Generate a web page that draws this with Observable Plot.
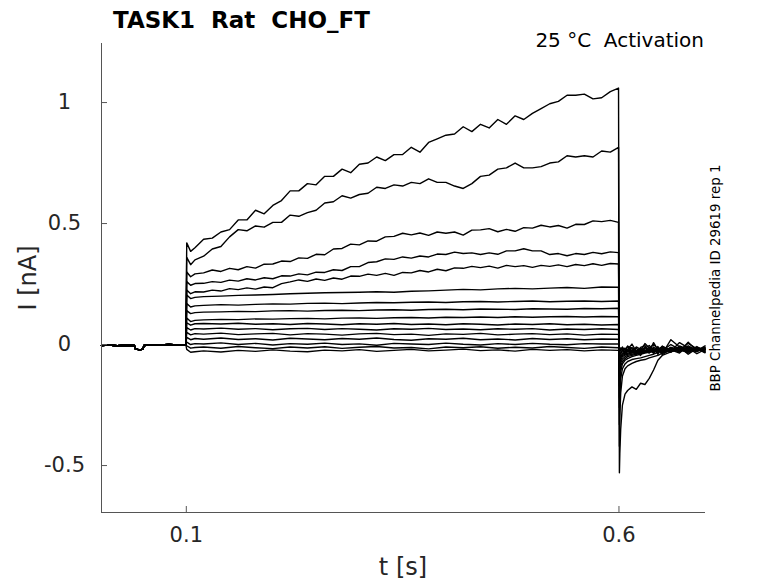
<!DOCTYPE html>
<html><head><meta charset="utf-8">
<script src="https://cdn.jsdelivr.net/npm/d3@7"></script>
<script src="https://cdn.jsdelivr.net/npm/@observablehq/plot@0.6"></script>
<style>
html,body{margin:0;padding:0;background:#fff;}
#wrap{position:relative;width:778px;height:583px;font-family:"DejaVu Sans",sans-serif;color:#000;overflow:hidden;}
.lab{position:absolute;white-space:pre;line-height:1;}
</style></head><body>
<div id="wrap"></div>
<script>
// ---- axes / tick labels ----
const X_DOMAIN = [0.002, 0.7];
const Y_DOMAIN = [-0.694, 1.244];
const X_TICKS = [0.1, 0.6];
const Y_TICKS = [-0.5, 0, 0.5, 1];

// ---- holding period (shared by all sweeps) ----
const PRE_T = [0.002, 0.01, 0.02, 0.03, 0.04, 0.041, 0.046, 0.05, 0.051, 0.06, 0.07, 0.08, 0.09, 0.0995];
const PRE_I = [-0.004, -0.002, -0.005, -0.003, -0.004, -0.018, -0.022, -0.019, -0.004, -0.001, -0.002, 0.0, -0.002, -0.001];

// ---- test pulse (0.1 - 0.6 s): fine time grid for the five largest sweeps ----
const STEP_T_FINE = [0.1005, 0.105, 0.11, 0.12, 0.13, 0.14, 0.15, 0.16, 0.17, 0.18, 0.19, 0.20, 0.21, 0.22, 0.23, 0.24, 0.25, 0.26, 0.27, 0.28, 0.29, 0.30, 0.31, 0.32, 0.33, 0.34, 0.35, 0.36, 0.37, 0.38, 0.39, 0.40, 0.41, 0.42, 0.43, 0.44, 0.45, 0.46, 0.47, 0.48, 0.49, 0.50, 0.51, 0.52, 0.53, 0.54, 0.55, 0.56, 0.57, 0.58, 0.59, 0.5995];
const S1 = [0.42, 0.385, 0.40, 0.435, 0.44, 0.465, 0.475, 0.515, 0.515, 0.555, 0.54, 0.575, 0.595, 0.635, 0.635, 0.665, 0.66, 0.695, 0.695, 0.725, 0.71, 0.745, 0.75, 0.775, 0.76, 0.785, 0.785, 0.815, 0.795, 0.835, 0.85, 0.865, 0.87, 0.9, 0.88, 0.91, 0.895, 0.93, 0.91, 0.945, 0.93, 0.955, 0.975, 0.995, 1.005, 1.03, 1.03, 1.035, 1.015, 1.02, 1.045, 1.06];
const S2 = [0.36, 0.33, 0.35, 0.365, 0.395, 0.405, 0.445, 0.475, 0.47, 0.49, 0.485, 0.505, 0.505, 0.535, 0.53, 0.545, 0.555, 0.585, 0.59, 0.615, 0.605, 0.62, 0.625, 0.65, 0.645, 0.66, 0.655, 0.67, 0.665, 0.685, 0.67, 0.67, 0.655, 0.645, 0.665, 0.695, 0.7, 0.725, 0.73, 0.75, 0.73, 0.73, 0.735, 0.75, 0.755, 0.78, 0.775, 0.78, 0.775, 0.8, 0.795, 0.815];
const S3 = [0.30, 0.28, 0.292, 0.296, 0.308, 0.302, 0.315, 0.309, 0.322, 0.316, 0.332, 0.333, 0.345, 0.343, 0.358, 0.356, 0.373, 0.371, 0.395, 0.397, 0.415, 0.412, 0.428, 0.427, 0.445, 0.447, 0.46, 0.453, 0.461, 0.451, 0.465, 0.46, 0.465, 0.452, 0.473, 0.474, 0.479, 0.466, 0.476, 0.468, 0.483, 0.481, 0.493, 0.486, 0.492, 0.481, 0.497, 0.496, 0.511, 0.508, 0.513, 0.505];
const S4 = [0.26, 0.245, 0.252, 0.253, 0.26, 0.257, 0.266, 0.262, 0.272, 0.267, 0.276, 0.272, 0.284, 0.283, 0.292, 0.288, 0.299, 0.298, 0.309, 0.306, 0.322, 0.322, 0.339, 0.342, 0.354, 0.352, 0.362, 0.357, 0.366, 0.362, 0.374, 0.372, 0.382, 0.376, 0.379, 0.372, 0.379, 0.373, 0.387, 0.387, 0.396, 0.387, 0.387, 0.372, 0.376, 0.367, 0.376, 0.372, 0.381, 0.375, 0.383, 0.38];
const S5 = [0.225, 0.21, 0.218, 0.217, 0.225, 0.221, 0.231, 0.227, 0.234, 0.229, 0.238, 0.235, 0.252, 0.259, 0.267, 0.261, 0.271, 0.265, 0.275, 0.27, 0.283, 0.282, 0.291, 0.286, 0.294, 0.286, 0.298, 0.296, 0.306, 0.3, 0.311, 0.305, 0.317, 0.315, 0.323, 0.318, 0.324, 0.316, 0.327, 0.322, 0.326, 0.319, 0.327, 0.323, 0.329, 0.322, 0.331, 0.326, 0.334, 0.327, 0.335, 0.333];

// ---- test pulse: coarse time grid for the small sweeps ----
const STEP_T = [0.1005, 0.105, 0.11, 0.12, 0.14, 0.16, 0.18, 0.20, 0.22, 0.24, 0.26, 0.28, 0.30, 0.32, 0.34, 0.36, 0.38, 0.40, 0.42, 0.44, 0.46, 0.48, 0.50, 0.52, 0.54, 0.56, 0.58, 0.5995];
const S6 = [0.205, 0.19, 0.195, 0.198, 0.20, 0.203, 0.205, 0.207, 0.21, 0.212, 0.214, 0.215, 0.216, 0.218, 0.216, 0.22, 0.222, 0.225, 0.228, 0.226, 0.23, 0.232, 0.23, 0.233, 0.236, 0.232, 0.238, 0.237];
const S7 = [0.17, 0.155, 0.16, 0.162, 0.165, 0.163, 0.166, 0.168, 0.167, 0.17, 0.171, 0.169, 0.172, 0.174, 0.173, 0.175, 0.176, 0.174, 0.177, 0.178, 0.176, 0.178, 0.18, 0.177, 0.179, 0.18, 0.178, 0.18];
const S8 = [0.14, 0.128, 0.132, 0.134, 0.135, 0.137, 0.136, 0.139, 0.14, 0.138, 0.141, 0.142, 0.14, 0.143, 0.144, 0.142, 0.145, 0.146, 0.144, 0.147, 0.146, 0.145, 0.148, 0.147, 0.146, 0.149, 0.148, 0.15];
const S9 = [0.11, 0.095, 0.10, 0.102, 0.104, 0.103, 0.106, 0.105, 0.107, 0.108, 0.106, 0.109, 0.11, 0.108, 0.111, 0.112, 0.11, 0.113, 0.112, 0.114, 0.112, 0.115, 0.113, 0.115, 0.116, 0.114, 0.116, 0.115];
const S10 = [0.09, 0.08, 0.086, 0.087, 0.085, 0.088, 0.084, 0.086, 0.083, 0.087, 0.085, 0.082, 0.086, 0.084, 0.087, 0.083, 0.085, 0.082, 0.086, 0.084, 0.081, 0.085, 0.083, 0.086, 0.082, 0.084, 0.081, 0.083];
const S11 = [0.07, 0.06, 0.066, 0.064, 0.068, 0.063, 0.066, 0.061, 0.065, 0.067, 0.062, 0.066, 0.063, 0.06, 0.065, 0.063, 0.067, 0.062, 0.064, 0.061, 0.065, 0.063, 0.066, 0.06, 0.064, 0.062, 0.065, 0.062];
const S12 = [0.05, 0.04, 0.045, 0.043, 0.047, 0.041, 0.044, 0.046, 0.04, 0.045, 0.043, 0.039, 0.044, 0.046, 0.041, 0.043, 0.038, 0.044, 0.042, 0.046, 0.04, 0.043, 0.045, 0.041, 0.044, 0.039, 0.043, 0.042];
const S13 = [0.03, 0.02, 0.025, 0.022, 0.027, 0.021, 0.024, 0.019, 0.026, 0.023, 0.02, 0.025, 0.022, 0.027, 0.021, 0.018, 0.024, 0.022, 0.026, 0.02, 0.023, 0.019, 0.025, 0.021, 0.024, 0.02, 0.023, 0.022];
const S14 = [0.01, 0.0, 0.004, 0.002, 0.007, 0.0, 0.005, -0.002, 0.004, 0.001, 0.006, 0.0, 0.003, -0.003, 0.005, 0.002, 0.0, 0.006, 0.001, -0.002, 0.004, 0.0, 0.005, 0.001, -0.001, 0.004, 0.002, 0.003];
const S15 = [-0.005, -0.015, -0.012, -0.01, -0.015, -0.008, -0.013, -0.017, -0.01, -0.014, -0.009, -0.016, -0.011, -0.008, -0.014, -0.012, -0.018, -0.01, -0.013, -0.009, -0.015, -0.011, -0.014, -0.008, -0.012, -0.016, -0.01, -0.013];
const S16 = [-0.02, -0.032, -0.03, -0.026, -0.031, -0.024, -0.028, -0.022, -0.027, -0.03, -0.023, -0.026, -0.021, -0.028, -0.024, -0.02, -0.026, -0.023, -0.019, -0.025, -0.022, -0.027, -0.02, -0.024, -0.021, -0.026, -0.022, -0.024];

// ---- tail currents (after 0.6 s) ----
const TAIL_T = [0.6005, 0.601, 0.602, 0.604, 0.607, 0.61, 0.615, 0.62, 0.625, 0.63, 0.635, 0.64, 0.645, 0.65, 0.66, 0.67, 0.68, 0.69, 0.6995];
const R1 = [-0.53, -0.45, -0.35, -0.25, -0.205, -0.19, -0.175, -0.185, -0.16, -0.165, -0.14, -0.105, -0.065, -0.045, -0.03, -0.02, -0.025, -0.02, -0.022];
const R2 = [-0.42, -0.3, -0.2, -0.13, -0.1, -0.088, -0.078, -0.07, -0.065, -0.062, -0.055, -0.05, -0.045, -0.035, -0.025, -0.018, -0.022, -0.015, -0.02];
const R3 = [-0.33, -0.22, -0.14, -0.1, -0.08, -0.07, -0.062, -0.058, -0.055, -0.05, -0.045, -0.04, -0.032, -0.028, -0.02, -0.025, -0.015, -0.02, -0.018];
const R4 = [-0.26, -0.17, -0.11, -0.08, -0.065, -0.058, -0.05, -0.045, -0.04, -0.035, -0.032, -0.028, -0.025, -0.02, -0.022, -0.012, -0.018, -0.024, -0.015];
const R5 = [-0.22, -0.14, -0.09, -0.07, -0.058, -0.05, -0.045, -0.04, -0.035, -0.032, -0.028, -0.024, -0.02, -0.026, -0.015, -0.02, -0.028, -0.012, -0.02];
const R6 = [-0.17, -0.11, -0.075, -0.06, -0.05, -0.045, -0.04, -0.036, -0.03, -0.026, -0.022, -0.03, -0.018, -0.024, -0.03, -0.014, -0.022, -0.026, -0.016];
const R7 = [-0.13, -0.09, -0.065, -0.05, -0.044, -0.04, -0.035, -0.03, -0.026, -0.03, -0.02, -0.025, -0.032, -0.015, -0.022, -0.028, -0.01, -0.02, -0.025];
const R8 = [-0.1, -0.075, -0.055, -0.045, -0.04, -0.036, -0.03, -0.026, -0.022, -0.028, -0.034, -0.018, -0.025, -0.03, -0.012, -0.024, -0.03, -0.016, -0.022];
const R9 = [-0.08, -0.06, -0.048, -0.04, -0.035, -0.03, -0.026, -0.032, -0.02, -0.025, -0.012, -0.028, -0.02, -0.008, -0.025, -0.018, -0.035, -0.014, -0.028];
const R10 = [-0.065, -0.05, -0.042, -0.036, -0.03, -0.026, -0.022, -0.03, -0.015, -0.024, -0.034, -0.01, -0.026, -0.018, -0.032, -0.006, -0.02, -0.03, -0.012];
const R11 = [-0.05, -0.042, -0.036, -0.03, -0.026, -0.02, -0.028, -0.016, -0.03, -0.01, -0.022, -0.036, -0.014, -0.025, 0.0, -0.02, -0.028, -0.008, -0.03];
const R12 = [-0.04, -0.035, -0.03, -0.025, -0.02, -0.028, -0.012, -0.026, -0.035, -0.015, -0.004, -0.024, -0.03, -0.01, -0.022, -0.035, -0.005, -0.025, -0.01];
const R13 = [-0.03, -0.028, -0.024, -0.02, -0.015, -0.025, -0.032, -0.01, -0.02, -0.03, -0.018, 0.002, -0.02, -0.036, -0.012, -0.026, 0.005, -0.018, -0.032];
const R14 = [-0.025, -0.022, -0.018, -0.014, -0.02, -0.008, -0.028, -0.036, -0.012, -0.004, -0.03, -0.016, -0.04, -0.006, -0.028, 0.008, -0.014, -0.038, -0.02];
const R15 = [-0.02, -0.018, -0.014, -0.022, -0.03, -0.006, -0.016, -0.04, -0.025, 0.004, -0.014, -0.032, -0.008, -0.042, -0.018, -0.03, 0.01, -0.026, -0.005];
const R16 = [-0.018, -0.015, -0.024, -0.01, -0.036, -0.02, 0.002, -0.028, -0.045, -0.012, -0.03, 0.008, -0.022, -0.038, 0.02, -0.01, -0.04, -0.016, -0.034];

const STEPS = [S1, S2, S3, S4, S5, S6, S7, S8, S9, S10, S11, S12, S13, S14, S15, S16];
const TAILS = [R1, R2, R3, R4, R5, R6, R7, R8, R9, R10, R11, R12, R13, R14, R15, R16];

const rows = [];
STEPS.forEach((s, k) => {
  const grid = s.length === STEP_T_FINE.length ? STEP_T_FINE : STEP_T;
  PRE_T.forEach((t, j) => rows.push({k, t, i: PRE_I[j]}));
  grid.forEach((t, j) => rows.push({k, t, i: s[j]}));
  TAILS[k].forEach((v, j) => rows.push({k, t: TAIL_T[j], i: v}));
});

const W = 778, H = 583, ML = 101, MR = 73, MT = 43, MB = 71;
const PW = W - ML - MR, PH = H - MT - MB;
const AX = "#555";
const fmt = d => String(d);

const chart = Plot.plot({
  width: W, height: H,
  marginLeft: ML, marginRight: MR, marginTop: MT, marginBottom: MB,
  style: {fontFamily: "DejaVu Sans, sans-serif", background: "#fff", overflow: "visible"},
  x: {domain: X_DOMAIN},
  y: {domain: Y_DOMAIN},
  marks: [
    Plot.line(rows, {x: "t", y: "i", z: "k", stroke: "#000", strokeWidth: 1.4, strokeLinejoin: "round"}),
    Plot.ruleX([X_DOMAIN[0]], {stroke: AX, strokeWidth: 1}),
    Plot.ruleY([Y_DOMAIN[0]], {stroke: AX, strokeWidth: 1}),
    Plot.ruleX(X_TICKS, {stroke: AX, strokeWidth: 1, insetTop: PH - 6}),
    Plot.ruleY(Y_TICKS, {stroke: AX, strokeWidth: 1, insetRight: PW - 6}),
    Plot.axisX(X_TICKS, {tickSize: 0, tickPadding: 15, fontSize: 21, fill: "#262626", tickFormat: fmt, label: null}),
    Plot.axisY(Y_TICKS, {tickSize: 0, tickPadding: 0, dx: -37, textAnchor: "middle", fontSize: 21, fill: "#262626", tickFormat: fmt, label: null})
  ]
});
const wrap = document.getElementById("wrap");
wrap.appendChild(chart);

function label(text, css) {
  const d = document.createElement("div");
  d.className = "lab";
  d.textContent = text;
  Object.assign(d.style, css);
  wrap.appendChild(d);
}
label("TASK1  Rat  CHO_FT", {left: "113px", top: "9px", fontSize: "23px", fontWeight: "bold"});
label("25 \u00B0C  Activation", {right: "74px", top: "30px", fontSize: "20px"});
label("t [s]", {left: "403px", top: "555px", fontSize: "24px", color: "#262626", transform: "translateX(-50%)"});
label("I [nA]", {left: "28px", top: "277.5px", fontSize: "24px", color: "#262626", transform: "translate(-50%,-50%) rotate(-90deg)"});
label("BBP Channelpedia ID 29619 rep 1", {left: "716px", top: "277.5px", fontSize: "13.4px", transform: "translate(-50%,-50%) rotate(-90deg)"});
</script>
</body></html>
